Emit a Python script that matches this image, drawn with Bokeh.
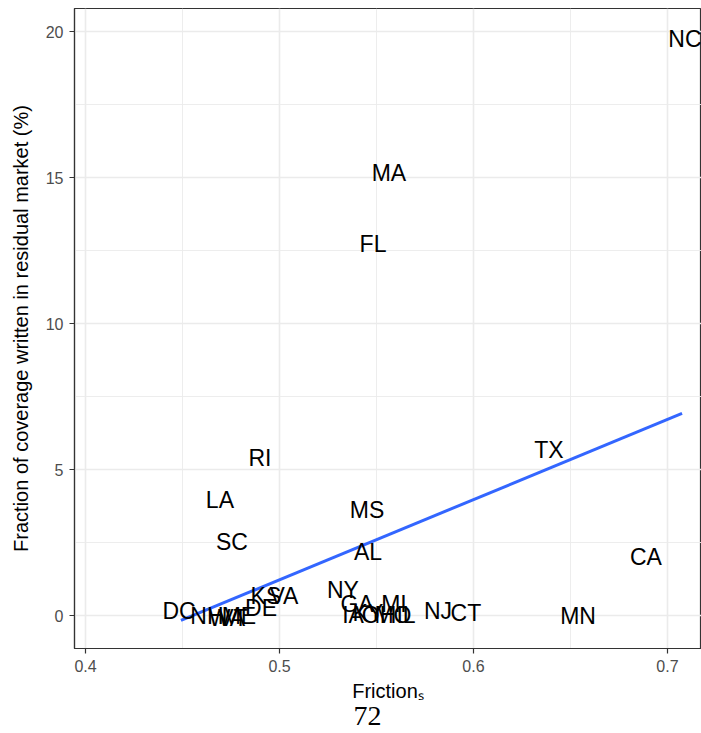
from bokeh.plotting import figure
from bokeh.models import FixedTicker, ColumnDataSource, Title, Range1d
from bokeh.core.properties import value
from bokeh.embed import file_html
from bokeh.resources import INLINE

# ---- data ----
states = ["NC", "MA", "FL", "TX", "RI", "LA", "MS", "SC", "AL", "CA",
          "NY", "KS", "VA", "DE", "DC", "NH", "WA", "ME", "VT",
          "GA", "MI", "NJ", "CT", "IA", "KY", "OH", "MO", "IL", "MN"]
friction = [0.7090, 0.5564, 0.5482, 0.6389, 0.4899, 0.4693, 0.5451, 0.4755, 0.5456, 0.6889,
            0.5327, 0.4930, 0.5023, 0.4905, 0.4482, 0.4626, 0.4729, 0.4791, 0.4760,
            0.5400, 0.5590, 0.5817, 0.5961, 0.5379, 0.5456, 0.5513, 0.5585, 0.5652, 0.6539]
residual = [19.76, 15.14, 12.71, 5.68, 5.41, 3.94, 3.63, 2.53, 2.19, 2.02,
            0.86, 0.68, 0.68, 0.27, 0.14, -0.03, -0.07, -0.03, -0.10,
            0.38, 0.41, 0.17, 0.10, 0.03, 0.10, 0.03, 0.03, 0.03, 0.00]

fit_friction = [0.4492, 0.7075]
fit_residual = [-0.17, 6.92]

x_ticks = [0.4, 0.5, 0.6, 0.7]
x_tick_labels = ["0.4", "0.5", "0.6", "0.7"]
x_minor = [0.45, 0.55, 0.65]
y_ticks = [0, 5, 10, 15, 20]
y_tick_labels = ["0", "5", "10", "15", "20"]
y_minor = [2.5, 7.5, 12.5, 17.5]

x_title = "Friction\u209b"
y_title = "Fraction of coverage written in residual market (%)"
page_number = "72"

# ---- figure ----
p = figure(width=701, height=733, output_backend="svg", toolbar_location=None,
           x_range=Range1d(0.39433, 0.71753), y_range=Range1d(-1.13, 20.788),
           min_border_left=74, min_border_right=0, min_border_top=8, min_border_bottom=85)

p.background_fill_color = "white"
p.border_fill_color = "white"
p.outline_line_color = "#333333"
p.outline_line_width = 1.2

src = ColumnDataSource(dict(x=friction, y=residual, label=states))

p.line(fit_friction, fit_residual, line_color="#3366FF", line_width=3)
p.text(x="x", y="y", text="label", source=src, text_align="center", text_baseline="middle",
       text_font=value("Liberation Sans"), text_font_size="23px", text_color="black")

xt = FixedTicker(ticks=x_ticks, minor_ticks=x_minor)
yt = FixedTicker(ticks=y_ticks, minor_ticks=y_minor)
p.xaxis.ticker = xt
p.yaxis.ticker = yt
p.xgrid.ticker = xt
p.ygrid.ticker = yt
p.xaxis.major_label_overrides = {t: l for t, l in zip(x_ticks, x_tick_labels)}
p.yaxis.major_label_overrides = {t: l for t, l in zip(y_ticks, y_tick_labels)}

for g in (p.xgrid, p.ygrid):
    g.grid_line_color = "#EBEBEB"
    g.grid_line_width = 1.6
    g.minor_grid_line_color = "#EBEBEB"
    g.minor_grid_line_width = 0.9

for ax in (p.xaxis, p.yaxis):
    ax.axis_line_color = "#333333"
    ax.axis_line_width = 1.2
    ax.major_tick_line_color = "#333333"
    ax.major_tick_line_width = 1.2
    ax.major_tick_out = 5
    ax.major_tick_in = 0
    ax.minor_tick_line_color = None
    ax.major_label_text_font = "Liberation Sans"
    ax.major_label_text_font_size = "16px"
    ax.major_label_text_color = "#4D4D4D"
    ax.axis_label_text_font = "Liberation Sans"
    ax.axis_label_text_font_size = "20px"
    ax.axis_label_text_font_style = "normal"
    ax.axis_label_text_color = "black"

p.xaxis.major_label_standoff = 6
p.xaxis.axis_label_standoff = 5
p.yaxis.major_label_standoff = 6
p.yaxis.axis_label_standoff = 11
p.xaxis.axis_label = x_title
p.yaxis.axis_label = y_title

t = Title(text=page_number, align="left", offset=279, standoff=0,
          text_font="Liberation Serif", text_font_size="28px",
          text_font_style="normal", text_color="black")
p.add_layout(t, "below")

open("out.html", "w").write(file_html(p, INLINE))
